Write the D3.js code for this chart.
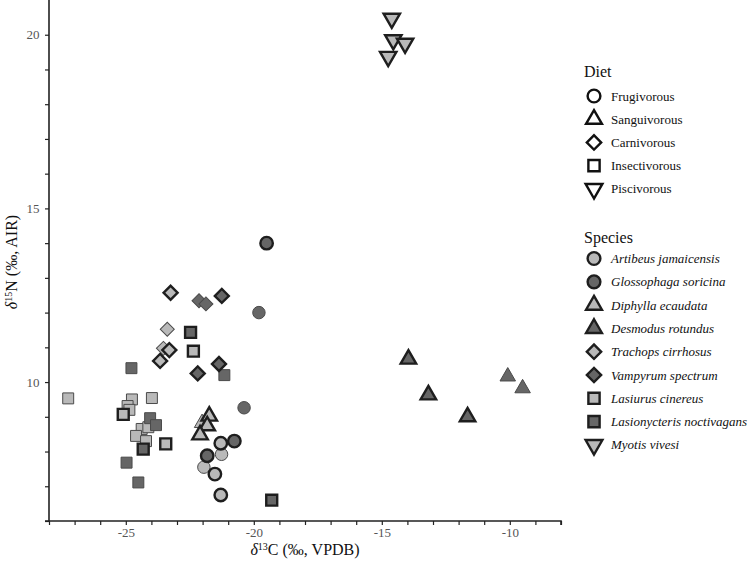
<!DOCTYPE html>
<html><head><meta charset="utf-8">
<script src="https://cdn.jsdelivr.net/npm/d3@7"></script>
<style>body{margin:0;background:#fff}svg{display:block}
svg text{font-family:"Liberation Serif","Times New Roman","DejaVu Serif",serif}</style>
</head><body>
<script>
// ---- data ----
const speciesNames = ["Artibeus jamaicensis","Glossophaga soricina","Diphylla ecaudata","Desmodus rotundus","Trachops cirrhosus","Vampyrum spectrum","Lasiurus cinereus","Lasionycteris noctivagans","Myotis vivesi"];
const dietNames = ["Frugivorous","Sanguivorous","Carnivorous","Insectivorous","Piscivorous"];
const speciesDiet = ["Frugivorous","Frugivorous","Sanguivorous","Sanguivorous","Carnivorous","Carnivorous","Insectivorous","Insectivorous","Piscivorous"];
const speciesTone = ["light","dark","light","dark","light","dark","light","dark","light"];
const xTicks = [-25,-20,-15,-10];
const yTicks = [10,15,20];
// [species index, d13C, d15N, sample group]
const artibeus = [[0,-21.29,8.24,"A"],[0,-21.52,7.35,"A"],[0,-21.29,6.75,"A"],[0,-21.26,7.92,"B"],[0,-21.95,7.55,"B"]];
const glossophaga = [[1,-20.76,8.30,"A"],[1,-21.82,7.88,"A"],[1,-19.50,14.00,"A"],[1,-20.38,9.26,"B"],[1,-19.80,12.00,"B"]];
const diphylla = [[2,-21.74,9.02,"A"],[2,-21.82,8.74,"A"],[2,-22.10,8.48,"A"],[2,-22.02,8.82,"B"]];
const desmodus = [[3,-13.96,10.66,"A"],[3,-13.18,9.63,"A"],[3,-11.65,9.00,"A"],[3,-10.08,10.16,"B"],[3,-9.50,9.82,"B"]];
const trachops = [[4,-23.25,12.57,"A"],[4,-23.30,10.92,"A"],[4,-23.66,10.61,"A"],[4,-23.38,11.52,"B"],[4,-23.53,10.97,"B"]];
const vampyrum = [[5,-21.25,12.48,"A"],[5,-22.19,10.25,"A"],[5,-21.36,10.52,"A"],[5,-22.14,12.34,"B"],[5,-21.87,12.25,"B"]];
const lasiurus = [[6,-22.36,10.89,"A"],[6,-25.10,9.07,"A"],[6,-23.44,8.22,"A"],[6,-27.25,9.53,"B"],[6,-24.76,9.50,"B"],[6,-23.98,9.54,"B"],[6,-24.93,9.31,"B"],[6,-24.86,9.20,"B"],[6,-24.38,8.65,"B"],[6,-24.12,8.70,"B"],[6,-24.60,8.45,"B"],[6,-24.21,8.30,"B"]];
const lasionycteris = [[7,-22.47,11.43,"A"],[7,-24.32,8.07,"A"],[7,-19.30,6.60,"A"],[7,-24.78,10.40,"B"],[7,-21.15,10.20,"B"],[7,-24.05,8.96,"B"],[7,-23.82,8.76,"B"],[7,-24.97,7.68,"B"],[7,-24.51,7.11,"B"]];
const myotis = [[8,-14.61,20.47,"A"],[8,-14.55,19.85,"A"],[8,-14.09,19.75,"A"],[8,-14.75,19.37,"A"]];

const points = [].concat(artibeus,glossophaga,diphylla,desmodus,trachops,vampyrum,lasiurus,lasionycteris,myotis)
  .map(d=>({sp:d[0],x:d[1],y:d[2],g:d[3]}));

// ---- drawing ----
const W=750,H=562;
const svg=d3.select("body").append("svg").attr("width",W).attr("height",H);
const x=d3.scaleLinear().domain([-28,-8]).range([49,561]);
const y=d3.scaleLinear().domain([6,21]).range([521,0]);

const toneFill={light:"#b9b9b9",dark:"#666666"};
const shapeOf={Frugivorous:{t:d3.symbolCircle,s:122,r:0},Sanguivorous:{t:d3.symbolTriangle,s:104,r:0},
  Carnivorous:{t:d3.symbolSquare,s:98,r:45},Insectivorous:{t:d3.symbolSquare,s:120,r:0},Piscivorous:{t:d3.symbolTriangle,s:116,r:180}};
const strokeW=d3.scaleOrdinal().domain(["A","B"]).range([2.4,1]);
const strokeC=d3.scaleOrdinal().domain(["A","B"]).range(["#1e1e1e","#4a4a4a"]);

function sym(diet,scale){const s=shapeOf[diet];return d3.symbol().type(s.t).size(s.s*(scale||1))();}

// axes
const gx=svg.append("g").attr("transform",`translate(0,${y(6)})`)
  .call(d3.axisBottom(x).tickValues(d3.range(-28,-7,1)).tickSize(4).tickFormat(d=>xTicks.includes(d)?String(d):""));
const gy=svg.append("g").attr("transform",`translate(${x(-28)},0)`)
  .call(d3.axisLeft(y).tickValues(d3.range(6,21,1)).tickSize(4).tickFormat(d=>yTicks.includes(d)?d:""));
[gx,gy].forEach(g=>{
  g.attr("font-family",null);
  g.select(".domain").attr("stroke","#222").attr("stroke-width",1.6);
  g.selectAll(".tick line").attr("stroke","#222").attr("stroke-width",1.2);
  g.selectAll(".tick text").attr("font-size",13).attr("fill","#555");
});
gy.select(".domain").attr("d",`M-4,${y(6)}H0V0`);
gx.select(".domain").attr("d",`M${x(-28)},0V0H${x(-8)}V4`);
gx.selectAll(".tick text").attr("dy","0.72em");
gy.selectAll(".tick text").attr("dx","-0.2em");

// axis titles
const xt=svg.append("text").attr("x",305).attr("y",555).attr("text-anchor","middle")
  .attr("font-size",16).attr("fill","#111");
xt.append("tspan").attr("font-style","italic").text("δ");
xt.append("tspan").attr("font-size",10).attr("dy",-5).text("13");
xt.append("tspan").attr("dy",5).text("C (‰, VPDB)");
const yt=svg.append("text").attr("transform","translate(17,262) rotate(-90)").attr("text-anchor","middle")
  .attr("font-size",16).attr("fill","#111");
yt.append("tspan").attr("font-style","italic").text("δ");
yt.append("tspan").attr("font-size",10).attr("dy",-5).text("15");
yt.append("tspan").attr("dy",5).text("N (‰, AIR)");

// points: thin first, then thick
const ordered=points.filter(d=>d.g==="B").concat(points.filter(d=>d.g==="A"));
svg.append("g").selectAll("path").data(ordered).join("path")
  .attr("d",d=>sym(speciesDiet[d.sp]))
  .attr("transform",d=>`translate(${x(d.x)},${y(d.y)}) rotate(${shapeOf[speciesDiet[d.sp]].r})`)
  .attr("fill",d=>toneFill[speciesTone[d.sp]])
  .attr("stroke",d=>strokeC(d.g)).attr("stroke-width",d=>strokeW(d.g));

// legends
const lg=svg.append("g");
lg.append("text").attr("x",584).attr("y",77).attr("font-size",16).attr("fill","#111").text("Diet");
dietNames.forEach((dn,i)=>{
  const cy=96+i*23.2;
  lg.append("path").attr("d",sym(dn,1.05)).attr("transform",`translate(594,${cy}) rotate(${shapeOf[dn].r})`)
    .attr("fill","#fff").attr("stroke","#111").attr("stroke-width",2.4);
  lg.append("text").attr("x",611).attr("y",cy+4.5).attr("font-size",13).attr("fill","#111").text(dn);
});
lg.append("text").attr("x",584).attr("y",243).attr("font-size",16).attr("fill","#111").text("Species");
speciesNames.forEach((sn,i)=>{
  const cy=258.5+i*23.3;
  const dn=speciesDiet[i];
  lg.append("path").attr("d",sym(dn,1.05)).attr("transform",`translate(594,${cy}) rotate(${shapeOf[dn].r})`)
    .attr("fill",toneFill[speciesTone[i]]).attr("stroke","#1e1e1e").attr("stroke-width",2.4);
  lg.append("text").attr("x",611).attr("y",cy+4.5).attr("font-size",13).attr("font-style","italic").attr("fill","#111").text(sn);
});
</script>
</body></html>
